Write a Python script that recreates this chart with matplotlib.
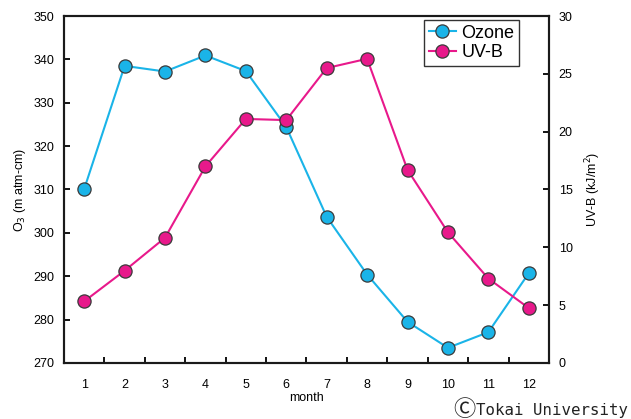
import matplotlib
matplotlib.use("Agg")
import matplotlib.pyplot as plt

plt.rcParams['font.family'] = ['Liberation Sans', 'DejaVu Sans']

# 月別のオゾン全量と紅斑紫外線量
months = [1, 2, 3, 4, 5, 6, 7, 8, 9, 10, 11, 12]
month_labels = ['1', '2', '3', '4', '5', '6', '7', '8', '9', '10', '11', '12']
ozone = [310.1, 338.5, 337.2, 340.9, 337.3, 324.4, 303.7, 290.4, 279.5, 273.5, 277.1, 290.7]
uvb = [5.33, 7.98, 10.83, 17.0, 21.1, 21.0, 25.5, 26.3, 16.7, 11.3, 7.3, 4.75]

c_ozone = '#1ab4e8'
c_uvb = '#e8198b'
edge = '#3a3a3a'

fig = plt.figure(figsize=(6.31, 4.19), dpi=100)
ax = fig.add_axes([0.1014, 0.1337, 0.7686, 0.8281])
ax2 = ax.twinx()

l1, = ax.plot(months, ozone, color=c_ozone, lw=1.5, marker='o', ms=9.5,
              markerfacecolor=c_ozone, markeredgecolor=edge, markeredgewidth=0.9,
              label='Ozone')
l2, = ax2.plot(months, uvb, color=c_uvb, lw=1.5, marker='o', ms=9.5,
               markerfacecolor=c_uvb, markeredgecolor=edge, markeredgewidth=0.9,
               label='UV-B')

ax.set_xlim(0.5, 12.5)
ax.set_ylim(270, 350)
ax2.set_ylim(0, 30)
ax.set_yticks(range(270, 351, 10))
ax2.set_yticks(range(0, 31, 5))

# 目盛は月の境目に、ラベルは月の中央に
ax.set_xticks([m + 0.5 for m in months[:-1]])
ax.set_xticklabels([])
ax.set_xticks(months, minor=True)
ax.set_xticklabels(month_labels, minor=True)
ax.tick_params(axis='x', which='major', direction='in', length=4, width=1.3)
ax.tick_params(axis='x', which='minor', length=0, pad=11.5, labelsize=9)
ax.tick_params(axis='y', direction='in', length=4, width=1.3, pad=7, labelsize=9)
ax2.tick_params(axis='y', direction='in', length=4, width=1.3, pad=7, labelsize=9)

for a in (ax, ax2):
    for s in a.spines.values():
        s.set_linewidth(1.5)
        s.set_color('#1a1a1a')

ax.set_xlabel('month', fontsize=9, labelpad=1)
ax.set_ylabel('O$_3$ (m atm-cm)', fontsize=9, labelpad=4)
ax2.set_ylabel('UV-B (kJ/m$^2$)', fontsize=9, labelpad=8)

leg = ax2.legend(handles=[l1, l2], loc='upper right', bbox_to_anchor=(0.938, 0.988),
                 fontsize=13, fancybox=False, framealpha=1, edgecolor='#333333',
                 handlelength=1.5, handletextpad=0.3, borderpad=0.25,
                 labelspacing=0.15, borderaxespad=0)
leg.get_frame().set_linewidth(1.0)

# 著作権表示
fig.text(475 / 631, (419 - 409.5) / 419, '\u24b8', ha='right', va='center', fontsize=16,
         family=['Noto Sans CJK JP', 'DejaVu Sans'], color='#222222')
fig.text(628 / 631, (419 - 415) / 419, 'Tokai University', ha='right', va='baseline',
         fontsize=11.3, family=['DejaVu Sans Mono'], color='#222222')

fig.savefig('out.png', dpi=100)
